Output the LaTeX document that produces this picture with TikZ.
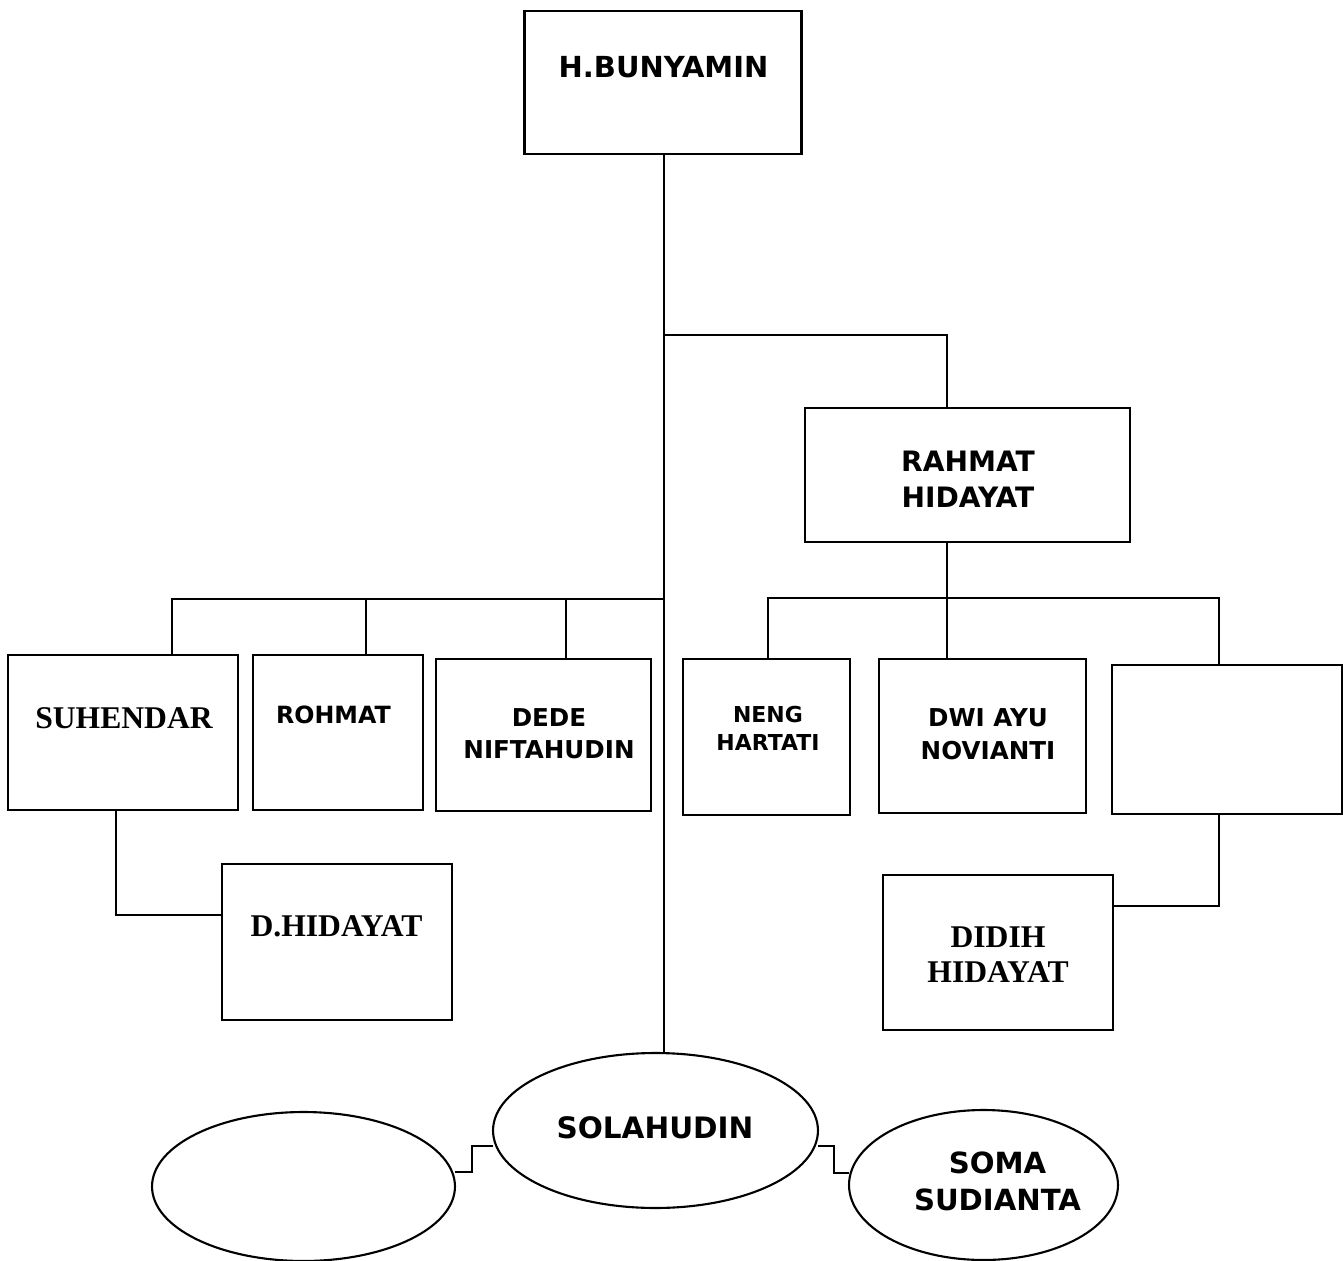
\documentclass[tikz,border=0pt]{standalone}
\usepackage{fontspec}
\newfontfamily\verdfont{DejaVu Sans}
\newfontfamily\tnrfont{Liberation Serif}
\usetikzlibrary{shapes.geometric}
\newcommand{\fs}[2]{\fontsize{#1}{#2}\selectfont}

\begin{document}
\begin{tikzpicture}[x=0.02cm,y=-0.02cm,
  box/.style={draw,rectangle,line width=1.2pt,inner sep=0pt,outer sep=0pt},
  oval/.style={draw,ellipse,line width=1.2pt,inner sep=0pt,outer sep=0pt},
  vtext/.style 2 args={align=center,inner sep=0pt,font=\verdfont\bfseries\fs{#1}{#2}},
  ttext/.style 2 args={align=center,inner sep=0pt,font=\tnrfont\bfseries\fs{#1}{#2}},
  link/.style={line width=1.2pt}]
\useasboundingbox (0,0) rectangle (1343,1261);

% boxes
\node (bun) at (663,82.5) [box,minimum width=5.54cm,minimum height=2.86cm] {};
\node (rah) at (967.5,475) [box,minimum width=6.5cm,minimum height=2.68cm] {};
\node (suh) at (123,732.5) [box,minimum width=4.6cm,minimum height=3.1cm] {};
\node (roh) at (338,732.5) [box,minimum width=3.4cm,minimum height=3.1cm] {};
\node (ded) at (543.5,735) [box,minimum width=4.3cm,minimum height=3.04cm] {};
\node (nen) at (766.5,737) [box,minimum width=3.34cm,minimum height=3.12cm] {};
\node (dwi) at (982.5,736) [box,minimum width=4.14cm,minimum height=3.08cm] {};
\node (emp) at (1227,739.5) [box,minimum width=4.6cm,minimum height=2.98cm] {};
\node (dhi) at (337,942) [box,minimum width=4.6cm,minimum height=3.12cm] {};
\node (ddh) at (998,952.5) [box,minimum width=4.6cm,minimum height=3.1cm] {};
\node (sol) at (655.5,1130.5) [oval,minimum width=6.5cm,minimum height=3.1cm] {};
\node (lft) at (303.5,1186.5) [oval,minimum width=6.06cm,minimum height=2.98cm] {};
\node (som) at (983.5,1185) [oval,minimum width=5.38cm,minimum height=3.0cm] {};

% names
\node (bunt) at (663.5,67) [vtext={16.5}{20}] {H.BUNYAMIN};
\node (raht) at (968,479) [vtext={16}{20.4}] {RAHMAT\\HIDAYAT};
\node (suht) at (124,718) [ttext={18}{20}] {SUHENDAR};
\node (roht) at (333.5,715) [vtext={13.5}{16}] {ROHMAT};
\node (dedt) at (549,734) [vtext={14}{18}] {DEDE\\NIFTAHUDIN};
\node (nent) at (768,728) [vtext={12.5}{16}] {NENG\\HARTATI};
\node (dwit) at (988,734.5) [vtext={14}{18.7}] {DWI AYU\\NOVIANTI};
\node (dhit) at (336.5,926) [ttext={18}{20}] {D.HIDAYAT};
\node (ddht) at (998,954.5) [ttext={18}{19.8}] {DIDIH\\HIDAYAT};
\node (solt) at (655,1128) [vtext={16.8}{20}] {SOLAHUDIN};
\node (somt) at (997.5,1181.5) [vtext={16.6}{21}] {SOMA\\SUDIANTA};

% joints
\coordinate (jr) at (664,335);
\coordinate (rb1) at (768,598);
\coordinate (rb2) at (947,598);
\coordinate (rb3) at (1219,598);
\coordinate (lb1) at (172,599);
\coordinate (lb2) at (366,599);
\coordinate (lb3) at (566,599);
\coordinate (lb4) at (664,599);
\coordinate (sd) at (116,915);
\coordinate (ed) at (1219,906);
\coordinate (c1) at (472,1172);
\coordinate (c2) at (472,1146);
\coordinate (c3) at (834,1146);
\coordinate (c4) at (834,1173);

% lines
\draw [link] (bun.south -| jr) -- (sol.north -| jr);
\draw [link] (jr) -| (rah.north -| rb2);
\draw [link] (rah.south -| rb2) -- (rb2 |- dwi.north);
\draw [link] (rb1 |- nen.north) -- (rb1) -- (rb3) -- (rb3 |- emp.north);
\draw [link] (lb1 |- suh.north) -- (lb1) -- (lb4);
\draw [link] (lb2) -- (lb2 |- roh.north);
\draw [link] (lb3) -- (lb3 |- ded.north);
\draw [link] (suh.south -| sd) -- (sd) -- (sd -| dhi.west);
\draw [link] (emp.south -| ed) -- (ed) -- (ed -| ddh.east);
\draw [link] (lft.east |- c1) -- (c1) -- (c2) -- (c2 -| sol.west);
\draw [link] (sol.east |- c3) -- (c3) -- (c4) -- (c4 -| som.west);

\end{tikzpicture}
\end{document}
